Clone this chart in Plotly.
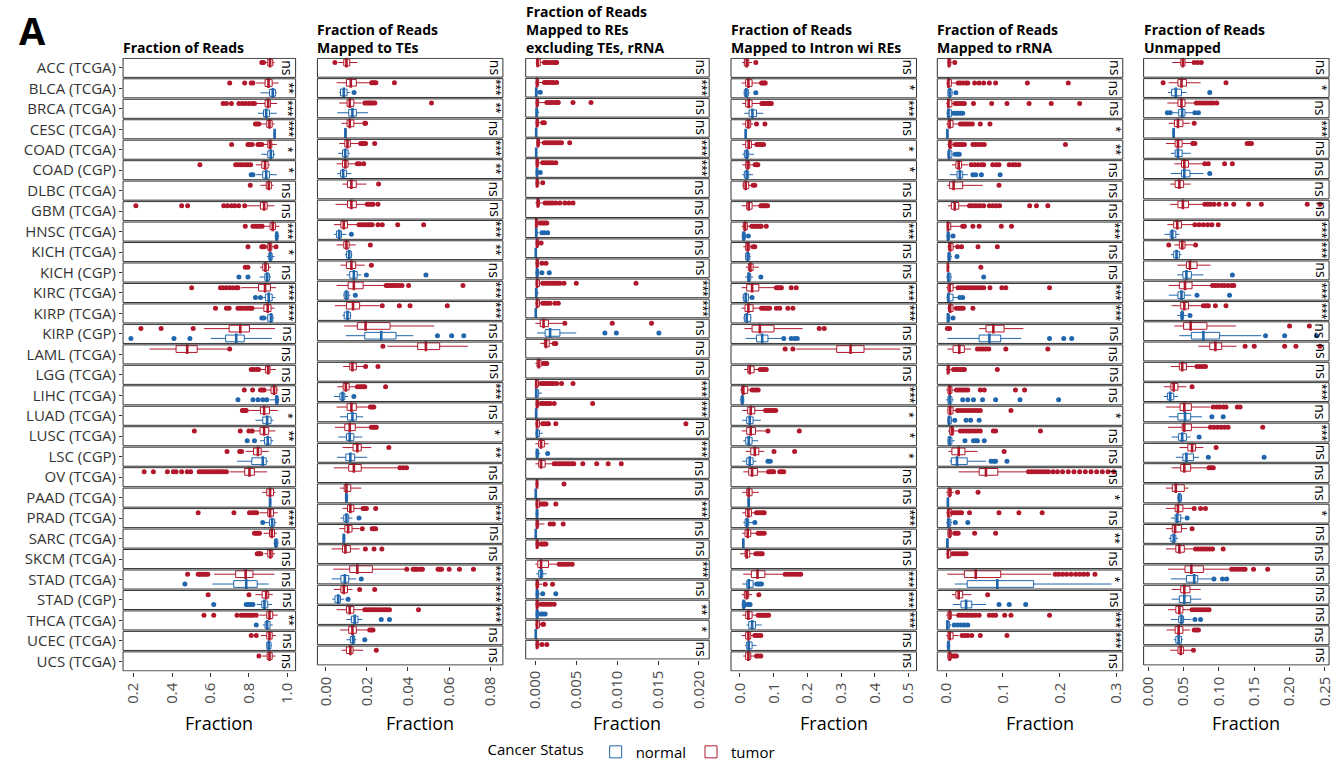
import plotly.graph_objects as go

categories = ["ACC (TCGA)", "BLCA (TCGA)", "BRCA (TCGA)", "CESC (TCGA)", "COAD (TCGA)",
              "COAD (CGP)", "DLBC (TCGA)", "GBM (TCGA)", "HNSC (TCGA)", "KICH (TCGA)",
              "KICH (CGP)", "KIRC (TCGA)", "KIRP (TCGA)", "KIRP (CGP)", "LAML (TCGA)",
              "LGG (TCGA)", "LIHC (TCGA)", "LUAD (TCGA)", "LUSC (TCGA)", "LSC (CGP)",
              "OV (TCGA)", "PAAD (TCGA)", "PRAD (TCGA)", "SARC (TCGA)", "SKCM (TCGA)",
              "STAD (TCGA)", "STAD (CGP)", "THCA (TCGA)", "UCEC (TCGA)", "UCS (TCGA)"]

# box statistics per cohort: (lower whisker, q1, median, q3, upper whisker); None = no samples

# ---- Fraction of Reads ----
reads_tumor = [
    (0.881, 0.898, 0.910, 0.924, 0.933), (0.838, 0.884, 0.902, 0.921, 0.955),
    (0.838, 0.884, 0.900, 0.912, 0.947), (0.860, 0.893, 0.907, 0.921, 0.933),
    (0.872, 0.898, 0.910, 0.919, 0.945), (0.836, 0.867, 0.884, 0.900, 0.910),
    (0.860, 0.890, 0.903, 0.917, 0.928), (0.781, 0.860, 0.879, 0.895, 0.933),
    (0.881, 0.910, 0.924, 0.938, 0.959), (0.893, 0.898, 0.909, 0.919, 0.931),
    (0.858, 0.872, 0.886, 0.902, 0.915), (0.760, 0.850, 0.884, 0.912, 0.941),
    (0.821, 0.878, 0.898, 0.915, 0.933), (0.566, 0.697, 0.755, 0.803, 0.936),
    (0.283, 0.421, 0.479, 0.531, 0.690), (0.862, 0.886, 0.900, 0.910, 0.941),
    (0.893, 0.915, 0.931, 0.945, 0.953), (0.800, 0.860, 0.879, 0.907, 0.950),
    (0.829, 0.858, 0.879, 0.903, 0.938), (0.783, 0.824, 0.847, 0.864, 0.903),
    (0.700, 0.778, 0.803, 0.829, 0.895), (0.869, 0.893, 0.910, 0.928, 0.938),
    (0.855, 0.898, 0.910, 0.928, 0.950), (0.876, 0.907, 0.919, 0.933, 0.945),
    (0.881, 0.898, 0.912, 0.924, 0.936), (0.619, 0.731, 0.783, 0.821, 0.933),
    (0.834, 0.869, 0.890, 0.903, 0.924), (0.855, 0.893, 0.907, 0.924, 0.950),
    (0.862, 0.893, 0.907, 0.921, 0.941), (0.869, 0.895, 0.907, 0.921, 0.938)]
reads_tumor_out = [
    [0.867, 0.876], [0.700, 0.778, 0.812, 0.821],
    [0.666, 0.683, 0.709, 0.748, 0.766, 0.783, 0.800, 0.817, 0.829], [0.834, 0.843, 0.852],
    [0.710, 0.795, 0.803, 0.817, 0.847, 0.855, 0.867],
    [0.545, 0.731, 0.743, 0.755, 0.769, 0.783, 0.795, 0.809], [0.807],
    [0.212, 0.450, 0.481, 0.669, 0.688, 0.709, 0.726, 0.747, 0.778],
    [0.781, 0.821, 0.833, 0.845, 0.857, 0.869], [0.795, 0.867, 0.874, 0.881, 0.941],
    [0.781, 0.795], [0.502, 0.652, 0.666, 0.683, 0.700, 0.717, 0.734, 0.743],
    [0.626, 0.683, 0.697, 0.743, 0.755, 0.769, 0.783, 0.795, 0.807, 0.816],
    [0.238, 0.343, 0.510], [0.700], [0.812, 0.824, 0.838, 0.850],
    [0.776, 0.819, 0.860, 0.870, 0.879], [0.766, 0.772, 0.779, 0.786],
    [0.516, 0.755, 0.800, 0.817], [0.686, 0.752, 0.762],
    [0.255, 0.303, 0.376, 0.407, 0.421, 0.450, 0.479, 0.497, 0.541, 0.553, 0.566, 0.579,
     0.593, 0.605, 0.619, 0.631, 0.645, 0.657, 0.669, 0.683],
    [], [0.536, 0.722, 0.803, 0.816, 0.828, 0.840], [0.829, 0.838, 0.847, 0.855],
    [0.843, 0.850, 0.855, 0.862], [0.481, 0.536, 0.545, 0.555, 0.566, 0.576, 0.586],
    [0.588, 0.800], [0.566, 0.617, 0.738, 0.760, 0.774, 0.786, 0.800, 0.812, 0.824, 0.838],
    [0.812, 0.838], [0.852]]
reads_normal = [
    None, (0.860, 0.907, 0.924, 0.938, 0.945), (0.847, 0.876, 0.890, 0.907, 0.945),
    (0.928, 0.931, 0.934, 0.938, 0.941), (0.864, 0.898, 0.914, 0.928, 0.936),
    (0.838, 0.872, 0.890, 0.907, 0.945), None, None, (0.933, 0.938, 0.945, 0.952, 0.959),
    (0.893, 0.903, 0.912, 0.921, 0.933), (0.855, 0.883, 0.895, 0.907, 0.915),
    (0.872, 0.886, 0.903, 0.921, 0.938), (0.886, 0.898, 0.915, 0.924, 0.931),
    (0.602, 0.679, 0.734, 0.776, 0.919), None, None, (0.910, 0.938, 0.945, 0.953, 0.959),
    (0.834, 0.872, 0.895, 0.915, 0.927), (0.858, 0.881, 0.898, 0.915, 0.927),
    (0.738, 0.815, 0.872, 0.890, 0.900), None, (0.905, 0.907, 0.910, 0.914, 0.916),
    (0.883, 0.907, 0.921, 0.934, 0.943), (0.928, 0.933, 0.941, 0.950, 0.955), None,
    (0.610, 0.721, 0.786, 0.843, 0.903), (0.841, 0.867, 0.881, 0.898, 0.921),
    (0.872, 0.884, 0.895, 0.910, 0.924), (0.890, 0.893, 0.903, 0.915, 0.921), None]
reads_normal_out = [
    [], [], [], [], [], [0.812, 0.821], [], [], [], [], [0.748, 0.795], [0.834, 0.860],
    [0.867, 0.878], [0.186, 0.410, 0.493], [], [], [0.743, 0.821, 0.847, 0.872, 0.893],
    [], [0.791, 0.829], [], [], [], [0.872], [], [], [0.467],
    [0.617, 0.786, 0.798, 0.809, 0.821], [0.838], [], []]
sig_reads = ["ns", "**", "***", "***", "*", "*", "ns", "ns", "***", "*", "ns", "***", "***",
             "ns", "ns", "ns", "ns", "*", "**", "ns", "ns", "ns", "***", "ns", "ns", "ns",
             "ns", "**", "ns", "ns"]
reads_ticks = [0.2, 0.4, 0.6, 0.8, 1.0]

# ---- Fraction of Reads Mapped to TEs ----
te_tumor = [
    (0.0061, 0.0088, 0.0101, 0.0117, 0.0154), (0.0053, 0.0101, 0.0122, 0.0149, 0.0210),
    (0.0066, 0.0104, 0.0117, 0.0137, 0.0175), (0.0077, 0.0104, 0.0117, 0.0137, 0.0178),
    (0.0066, 0.0093, 0.0106, 0.0120, 0.0162), (0.0053, 0.0082, 0.0096, 0.0109, 0.0146),
    (0.0082, 0.0106, 0.0125, 0.0149, 0.0198), (0.0048, 0.0106, 0.0125, 0.0149, 0.0198),
    (0.0040, 0.0074, 0.0088, 0.0106, 0.0157), (0.0053, 0.0088, 0.0101, 0.0114, 0.0146),
    (0.0072, 0.0101, 0.0125, 0.0146, 0.0190), (0.0053, 0.0109, 0.0137, 0.0182, 0.0286),
    (0.0045, 0.0101, 0.0133, 0.0165, 0.0262), (0.0090, 0.0154, 0.0194, 0.0313, 0.0527),
    (0.0300, 0.0447, 0.0487, 0.0554, 0.0692), (0.0085, 0.0117, 0.0130, 0.0149, 0.0190),
    (0.0056, 0.0085, 0.0098, 0.0114, 0.0149), (0.0053, 0.0104, 0.0125, 0.0149, 0.0214),
    (0.0045, 0.0093, 0.0117, 0.0144, 0.0214), (0.0082, 0.0133, 0.0154, 0.0173, 0.0222),
    (0.0040, 0.0112, 0.0137, 0.0173, 0.0355), (0.0069, 0.0090, 0.0101, 0.0122, 0.0173),
    (0.0082, 0.0106, 0.0120, 0.0137, 0.0173), (0.0066, 0.0093, 0.0109, 0.0128, 0.0165),
    (0.0029, 0.0082, 0.0096, 0.0120, 0.0165), (0.0037, 0.0117, 0.0154, 0.0227, 0.0390),
    (0.0040, 0.0074, 0.0088, 0.0106, 0.0130), (0.0053, 0.0101, 0.0117, 0.0137, 0.0182),
    (0.0069, 0.0112, 0.0130, 0.0149, 0.0210), (0.0077, 0.0101, 0.0120, 0.0133, 0.0182)]
te_tumor_out = [
    [0.0045], [0.0223, 0.0229, 0.0238, 0.0244, 0.0334],
    [0.0190, 0.0198, 0.0206, 0.0214, 0.0222, 0.0230, 0.0239, 0.0514], [0.0190, 0.0194],
    [0.0170, 0.0178, 0.0186, 0.0194, 0.0238], [0.0154, 0.0165, 0.0185], [0.0257],
    [0.0202, 0.0210, 0.0222, 0.0230, 0.0254],
    [0.0162, 0.0173, 0.0185, 0.0194, 0.0206, 0.0217, 0.0226, 0.0254, 0.0275, 0.0350, 0.0476],
    [0.0217], [0.0222],
    [0.0294, 0.0303, 0.0313, 0.0323, 0.0334, 0.0345, 0.0358, 0.0371, 0.0403, 0.0667],
    [0.0275, 0.0358, 0.0410, 0.0591], [], [0.0278], [0.0194, 0.0254],
    [0.0154, 0.0165, 0.0173, 0.0182, 0.0190, 0.0291], [0.0217, 0.0226, 0.0234],
    [0.0222, 0.0230, 0.0238, 0.0246], [0.0307], [0.0361, 0.0377, 0.0393], [],
    [0.0182, 0.0190, 0.0198, 0.0243], [0.0178, 0.0226, 0.0234, 0.0243],
    [0.0193, 0.0235, 0.0273],
    [0.0394, 0.0425, 0.0433, 0.0440, 0.0450, 0.0462, 0.0470, 0.0546, 0.0555, 0.0563,
     0.0600, 0.0650, 0.0718],
    [0.0165, 0.0238],
    [0.0190, 0.0201, 0.0214, 0.0226, 0.0238, 0.0249, 0.0262, 0.0275, 0.0286, 0.0297,
     0.0310, 0.0451],
    [0.0214, 0.0222, 0.0230], [0.0246]]
te_normal = [
    None, (0.0066, 0.0072, 0.0088, 0.0104, 0.0117), (0.0056, 0.0112, 0.0130, 0.0149, 0.0206),
    (0.0091, 0.0093, 0.0096, 0.0100, 0.0101), (0.0061, 0.0082, 0.0095, 0.0109, 0.0117),
    (0.0056, 0.0072, 0.0085, 0.0101, 0.0125), None, None,
    (0.0040, 0.0053, 0.0066, 0.0077, 0.0101), (0.0093, 0.0101, 0.0114, 0.0125, 0.0130),
    (0.0101, 0.0117, 0.0137, 0.0153, 0.0173), (0.0085, 0.0090, 0.0101, 0.0112, 0.0120),
    (0.0082, 0.0090, 0.0106, 0.0120, 0.0125), (0.0098, 0.0190, 0.0270, 0.0342, 0.0426),
    None, None, (0.0040, 0.0069, 0.0082, 0.0093, 0.0109),
    (0.0069, 0.0106, 0.0130, 0.0149, 0.0182), (0.0061, 0.0101, 0.0117, 0.0137, 0.0178),
    (0.0056, 0.0098, 0.0120, 0.0141, 0.0201), None, (0.0093, 0.0096, 0.0101, 0.0106, 0.0109),
    (0.0072, 0.0088, 0.0101, 0.0112, 0.0130), (0.0082, 0.0085, 0.0088, 0.0093, 0.0096), None,
    (0.0029, 0.0074, 0.0093, 0.0112, 0.0149), (0.0032, 0.0045, 0.0061, 0.0072, 0.0090),
    (0.0101, 0.0125, 0.0141, 0.0157, 0.0178), (0.0101, 0.0120, 0.0133, 0.0141, 0.0149), None]
te_normal_out = [
    [], [0.0138], [], [], [], [], [], [], [0.0125], [], [0.0198, 0.0487], [0.0144], [],
    [0.0543, 0.0612, 0.0671], [], [], [0.0137], [], [], [], [], [], [0.0162], [], [],
    [0.0173], [0.0109], [0.0270, 0.0310], [0.0190], []]
sig_te = ["ns", "***", "**", "ns", "***", "**", "ns", "ns", "***", "**", "ns", "***", "***",
          "ns", "ns", "ns", "***", "ns", "*", "**", "ns", "ns", "***", "ns", "ns", "***",
          "***", "***", "ns", "ns"]
te_ticks = [0.00, 0.02, 0.04, 0.06, 0.08]

# ---- Fraction of Reads Mapped to REs excluding TEs, rRNA ----
re_tumor = [
    (0.00004, 0.00016, 0.00028, 0.0006, 0.0009), (0.0, 0.0001, 0.0002, 0.0004, 0.0009),
    (0.0, 0.0001, 0.0002, 0.0004, 0.0012), (0.0, 0.0001, 0.0002, 0.0004, 0.0008),
    (0.0001, 0.0002, 0.0003, 0.0005, 0.0010), (0.0, 0.0001, 0.0002, 0.0004, 0.0008),
    (0.0, 0.0001, 0.0002, 0.0004, 0.0006), (0.0, 0.0002, 0.0003, 0.0005, 0.0010),
    (0.0, 0.00005, 0.0001, 0.0003, 0.0005), (0.0, 0.0001, 0.0002, 0.0004, 0.0005),
    (0.0, 0.0001, 0.0002, 0.0004, 0.0005), (0.0, 0.0001, 0.0002, 0.0005, 0.0008),
    (0.0, 0.0001, 0.0002, 0.0005, 0.0008), (0.0, 0.0006, 0.0010, 0.0016, 0.0033),
    (0.0006, 0.0011, 0.0013, 0.0017, 0.0021), (0.0, 0.0002, 0.0004, 0.0007, 0.0009),
    (0.0, 0.00005, 0.0001, 0.0004, 0.0006), (0.0, 0.0001, 0.0002, 0.0004, 0.0006),
    (0.0, 0.0001, 0.0002, 0.0005, 0.0008), (0.0, 0.0004, 0.0007, 0.0011, 0.0016),
    (0.0, 0.0004, 0.0007, 0.0012, 0.0021), (0.0, 0.0001, 0.0002, 0.0003, 0.0004),
    (0.0, 0.0001, 0.0002, 0.0005, 0.0006), (0.0, 0.0001, 0.0002, 0.0004, 0.0011),
    (0.0, 0.0001, 0.0002, 0.0004, 0.0006), (0.0, 0.0003, 0.0007, 0.0016, 0.0026),
    (0.0, 0.0001, 0.0002, 0.0004, 0.0008), (0.0, 0.0001, 0.0002, 0.0004, 0.0006),
    (0.0, 0.0001, 0.0002, 0.0005, 0.0008), (0.0, 0.0001, 0.0002, 0.0004, 0.0006)]
re_tumor_out = [
    [0.0011, 0.0013, 0.0015, 0.0018, 0.0021, 0.0024, 0.0026],
    [0.0011, 0.0013, 0.0016, 0.0019, 0.0022, 0.0026],
    [0.0014, 0.0017, 0.0020, 0.0023, 0.0026, 0.0028, 0.0046, 0.0068], [0.0009, 0.0011],
    [0.0011, 0.0014, 0.0017, 0.0020, 0.0023, 0.0026, 0.0029, 0.0032, 0.0042],
    [0.0009, 0.0012, 0.0015, 0.0018, 0.0021, 0.0025], [0.0009],
    [0.0012, 0.0015, 0.0018, 0.0021, 0.0025, 0.0030, 0.0036, 0.0041, 0.0046],
    [0.0006, 0.0008, 0.0010, 0.0012, 0.0014], [0.0007], [0.0008, 0.0013],
    [0.0009, 0.0012, 0.0015, 0.0018, 0.0021, 0.0024, 0.0027, 0.0030, 0.0035, 0.0050, 0.0123],
    [0.0009, 0.0012, 0.0015, 0.0018, 0.0024, 0.0028], [0.0036, 0.0094, 0.0142],
    [0.0023, 0.0025], [0.0010, 0.0012, 0.0014],
    [0.0007, 0.0010, 0.0013, 0.0016, 0.0019, 0.0022, 0.0026, 0.0032, 0.0046],
    [0.0007, 0.0010, 0.0013, 0.0016, 0.0018, 0.0023, 0.0070],
    [0.0009, 0.0011, 0.0014, 0.0016, 0.0025, 0.0184], [],
    [0.0023, 0.0026, 0.0029, 0.0032, 0.0035, 0.0038, 0.0041, 0.0044, 0.0047, 0.0058,
     0.0075, 0.0089, 0.0105],
    [0.0035], [0.0007, 0.0009, 0.0011, 0.0013, 0.0025], [0.0018, 0.0022, 0.0034],
    [0.0007, 0.0009, 0.0011, 0.0013], [0.0029, 0.0032, 0.0035, 0.0038, 0.0041, 0.0045],
    [0.0012, 0.0021], [0.0007, 0.0010, 0.0013, 0.0016, 0.0019, 0.0023], [0.0009, 0.0010],
    [0.0008, 0.0014]]
re_normal = [
    None, (0.0, 0.00005, 0.0001, 0.0002, 0.00035), (0.0, 0.0001, 0.00015, 0.0003, 0.0005),
    (0.0, 0.00005, 0.0001, 0.00015, 0.0002), (0.0, 0.00005, 0.0001, 0.00015, 0.00025),
    (0.0, 0.0001, 0.0002, 0.0003, 0.0005), None, None,
    (0.0, 0.00005, 0.0001, 0.0002, 0.0004), (0.0, 0.00003, 0.00005, 0.0001, 0.00015),
    (0.0, 0.0001, 0.0002, 0.0004, 0.0005), (0.0, 0.00005, 0.0001, 0.0002, 0.0004),
    (0.0, 0.00003, 0.00005, 0.0001, 0.00015), (0.0002, 0.0012, 0.0018, 0.0030, 0.0050),
    None, None, (0.0, 0.00005, 0.0001, 0.0004, 0.0008),
    (0.0, 0.00005, 0.0001, 0.00015, 0.0002), (0.0, 0.0001, 0.0002, 0.0005, 0.0009),
    (0.0, 0.0001, 0.0002, 0.0004, 0.0006), None, (0.0, 0.00003, 0.00005, 0.0001, 0.00015),
    (0.0, 0.0001, 0.0002, 0.0003, 0.0004), (0.0, 0.00003, 0.00005, 0.0001, 0.00015), None,
    (0.0001, 0.0004, 0.0007, 0.0009, 0.0014), (0.0, 0.0001, 0.0002, 0.0004, 0.0006),
    (0.0, 0.0001, 0.0002, 0.0004, 0.0006), (0.0, 0.00003, 0.00005, 0.0001, 0.00015), None]
re_normal_out = [
    [], [0.0006], [], [], [], [0.0006], [], [], [0.0008, 0.0011, 0.0015], [],
    [0.0008, 0.0017], [], [], [0.0085, 0.0099, 0.0151], [], [], [], [], [], [0.0015], [],
    [], [], [], [], [], [0.0009, 0.0025], [0.0007, 0.0009, 0.0012], [], []]
sig_re = ["ns", "***", "ns", "ns", "***", "***", "ns", "ns", "ns", "ns", "ns", "***", "***",
          "ns", "ns", "ns", "***", "***", "ns", "***", "ns", "ns", "***", "ns", "ns", "***",
          "ns", "**", "*", "ns"]
re_ticks = [0.000, 0.005, 0.010, 0.015, 0.020]

# ---- Fraction of Reads Mapped to Intron wi REs ----
intron_tumor = [
    (0.007, 0.013, 0.020, 0.026, 0.036), (0.005, 0.017, 0.025, 0.036, 0.062),
    (0.007, 0.017, 0.026, 0.036, 0.062), (0.007, 0.017, 0.025, 0.032, 0.039),
    (0.007, 0.017, 0.026, 0.034, 0.047), (0.007, 0.017, 0.023, 0.029, 0.042),
    (0.007, 0.010, 0.017, 0.026, 0.032), (0.005, 0.020, 0.026, 0.036, 0.058),
    (0.005, 0.010, 0.015, 0.022, 0.033), (0.010, 0.017, 0.023, 0.029, 0.036),
    (0.017, 0.025, 0.031, 0.039, 0.056), (0.005, 0.020, 0.036, 0.056, 0.105),
    (0.005, 0.015, 0.025, 0.039, 0.062), (0.013, 0.036, 0.059, 0.101, 0.186),
    (0.167, 0.287, 0.328, 0.368, 0.475), (0.013, 0.023, 0.029, 0.042, 0.054),
    (0.0, 0.005, 0.010, 0.023, 0.034), (0.007, 0.023, 0.032, 0.044, 0.073),
    (0.005, 0.020, 0.032, 0.046, 0.078), (0.017, 0.032, 0.044, 0.056, 0.072),
    (0.010, 0.026, 0.036, 0.052, 0.083), (0.007, 0.020, 0.026, 0.036, 0.056),
    (0.007, 0.017, 0.025, 0.034, 0.046), (0.007, 0.015, 0.023, 0.032, 0.050),
    (0.0, 0.015, 0.020, 0.029, 0.044), (0.010, 0.034, 0.052, 0.074, 0.132),
    (0.005, 0.013, 0.020, 0.026, 0.036), (0.007, 0.017, 0.025, 0.036, 0.052),
    (0.005, 0.017, 0.025, 0.032, 0.042), (0.010, 0.017, 0.025, 0.032, 0.042)]
intron_tumor_out = [
    [0.047], [0.064, 0.068, 0.073, 0.075], [0.065, 0.070, 0.075, 0.080, 0.085, 0.090, 0.093],
    [0.049, 0.074], [0.050, 0.055, 0.060, 0.065, 0.070], [0.045, 0.050, 0.053],
    [0.039, 0.044], [0.062, 0.066, 0.070, 0.074, 0.078, 0.082],
    [0.035, 0.040, 0.045, 0.050, 0.055, 0.060, 0.063, 0.078], [0.039, 0.044], [],
    [0.108, 0.113, 0.118, 0.123, 0.152, 0.167],
    [0.064, 0.070, 0.076, 0.082, 0.088, 0.108, 0.118, 0.142, 0.157], [0.235, 0.250],
    [0.134, 0.157], [0.060, 0.066, 0.072, 0.078], [0.036, 0.042, 0.048, 0.054],
    [0.076, 0.082, 0.088, 0.095, 0.100, 0.106], [0.083, 0.176], [0.101, 0.162],
    [0.085, 0.090, 0.095, 0.100, 0.118, 0.124, 0.130], [], [0.049, 0.055, 0.062, 0.068, 0.072],
    [0.054, 0.060, 0.066, 0.072], [0.047, 0.052, 0.057, 0.062, 0.066],
    [0.134, 0.142, 0.150, 0.158, 0.166, 0.174, 0.180], [0.056],
    [0.054, 0.059, 0.064, 0.069, 0.074, 0.079, 0.085], [0.044, 0.050, 0.056, 0.062],
    [0.049, 0.055, 0.062]]
intron_normal = [
    None, (0.010, 0.013, 0.019, 0.025, 0.029), (0.013, 0.027, 0.037, 0.049, 0.069),
    (0.015, 0.016, 0.017, 0.018, 0.019), (0.007, 0.013, 0.020, 0.026, 0.042),
    (0.007, 0.013, 0.020, 0.026, 0.039), None, None, (0.005, 0.007, 0.011, 0.016, 0.019),
    (0.015, 0.017, 0.023, 0.029, 0.032), (0.015, 0.023, 0.026, 0.032, 0.039),
    (0.007, 0.010, 0.017, 0.025, 0.029), (0.010, 0.013, 0.020, 0.032, 0.034),
    (0.017, 0.049, 0.066, 0.083, 0.127), None, None, (0.0, 0.003, 0.007, 0.011, 0.013),
    (0.007, 0.020, 0.029, 0.039, 0.062), (0.010, 0.017, 0.026, 0.036, 0.054),
    (0.007, 0.020, 0.029, 0.039, 0.049), None, (0.023, 0.024, 0.026, 0.028, 0.029),
    (0.010, 0.015, 0.021, 0.026, 0.039), (0.008, 0.009, 0.010, 0.011, 0.012), None,
    (0.007, 0.020, 0.026, 0.039, 0.049), (0.005, 0.007, 0.011, 0.016, 0.020),
    (0.020, 0.026, 0.036, 0.046, 0.064), (0.015, 0.020, 0.026, 0.036, 0.049), None]
intron_normal_out = [
    [], [0.047], [], [], [], [], [], [], [0.025], [], [0.062], [0.036], [],
    [0.130, 0.152, 0.162, 0.170], [], [], [], [], [], [0.083, 0.090], [], [], [0.044], [],
    [], [0.050, 0.055, 0.060, 0.064], [0.023, 0.027, 0.030], [], [], []]
sig_intron = ["ns", "*", "***", "ns", "*", "*", "ns", "ns", "***", "ns", "ns", "***", "***",
              "ns", "ns", "ns", "***", "*", "*", "*", "ns", "ns", "***", "ns", "ns", "***",
              "***", "***", "ns", "ns"]
intron_ticks = [0.0, 0.1, 0.2, 0.3, 0.4, 0.5]

# ---- Fraction of Reads Mapped to rRNA ----
rrna_tumor = [
    (0.002, 0.003, 0.005, 0.008, 0.010), (0.0, 0.002, 0.004, 0.009, 0.020),
    (0.0, 0.002, 0.004, 0.010, 0.015), (0.0, 0.003, 0.006, 0.012, 0.023),
    (0.002, 0.004, 0.007, 0.010, 0.014), (0.010, 0.017, 0.022, 0.027, 0.038),
    (0.002, 0.006, 0.013, 0.029, 0.064), (0.003, 0.009, 0.015, 0.022, 0.040),
    (0.0, 0.002, 0.003, 0.008, 0.028), (0.002, 0.004, 0.007, 0.012, 0.017),
    (0.001, 0.002, 0.003, 0.004, 0.006), (0.0, 0.003, 0.006, 0.012, 0.020),
    (0.002, 0.004, 0.007, 0.012, 0.016), (0.058, 0.070, 0.083, 0.102, 0.136),
    (0.002, 0.012, 0.023, 0.032, 0.044), (0.0, 0.002, 0.003, 0.006, 0.010),
    (0.0, 0.003, 0.006, 0.010, 0.017), (0.002, 0.003, 0.007, 0.012, 0.019),
    (0.003, 0.006, 0.010, 0.013, 0.024), (0.004, 0.010, 0.022, 0.033, 0.055),
    (0.022, 0.058, 0.070, 0.091, 0.142), (0.0, 0.003, 0.006, 0.009, 0.013),
    (0.0, 0.002, 0.004, 0.009, 0.010), (0.002, 0.003, 0.006, 0.009, 0.013),
    (0.0, 0.002, 0.003, 0.008, 0.011), (0.002, 0.032, 0.052, 0.096, 0.185),
    (0.010, 0.017, 0.022, 0.029, 0.044), (0.0, 0.003, 0.006, 0.009, 0.020),
    (0.0, 0.003, 0.006, 0.012, 0.022), (0.002, 0.003, 0.006, 0.009, 0.010)]
rrna_tumor_out = [
    [0.015],
    [0.021, 0.025, 0.030, 0.035, 0.038, 0.050, 0.058, 0.066, 0.076, 0.087, 0.143, 0.215],
    [0.016, 0.020, 0.024, 0.028, 0.032, 0.048, 0.080, 0.107, 0.146, 0.185, 0.235],
    [0.025, 0.029, 0.033, 0.037, 0.041, 0.046, 0.060, 0.077],
    [0.016, 0.020, 0.024, 0.028, 0.032, 0.047, 0.052, 0.057, 0.062, 0.067, 0.210],
    [0.044, 0.050, 0.056, 0.062, 0.066, 0.082, 0.088, 0.093, 0.111, 0.117, 0.122, 0.128],
    [0.093],
    [0.041, 0.045, 0.050, 0.055, 0.060, 0.066, 0.076, 0.082, 0.088, 0.094, 0.147, 0.159,
     0.179],
    [0.029, 0.032, 0.047, 0.058, 0.097, 0.115], [0.020, 0.027, 0.056, 0.090], [0.061],
    [0.021, 0.026, 0.031, 0.036, 0.041, 0.046, 0.051, 0.056, 0.061, 0.066, 0.077, 0.098,
     0.105, 0.182],
    [0.018, 0.022, 0.026, 0.030, 0.047], [0.002, 0.006],
    [0.055, 0.060, 0.065, 0.070, 0.075, 0.105, 0.179],
    [0.013, 0.017, 0.021, 0.025, 0.029, 0.032, 0.090],
    [0.018, 0.022, 0.026, 0.030, 0.034, 0.038, 0.060, 0.067, 0.122, 0.138],
    [0.020, 0.025, 0.030, 0.035, 0.040, 0.045, 0.050, 0.055, 0.060, 0.114],
    [0.025, 0.030, 0.035, 0.040, 0.045, 0.050, 0.055, 0.060, 0.083, 0.087, 0.166],
    [0.102],
    [0.145, 0.150, 0.155, 0.160, 0.165, 0.170, 0.175, 0.180, 0.188, 0.196, 0.205, 0.215,
     0.225, 0.235, 0.245, 0.255, 0.265, 0.275, 0.285, 0.295],
    [0.020, 0.056], [0.011, 0.015, 0.019, 0.023, 0.027, 0.041, 0.093, 0.128, 0.169],
    [0.015, 0.018, 0.021, 0.050, 0.087], [0.012, 0.016, 0.020, 0.024, 0.028, 0.032, 0.035],
    [0.192, 0.198, 0.205, 0.212, 0.220, 0.228, 0.235, 0.242, 0.249, 0.262], [0.073],
    [0.022, 0.027, 0.032, 0.037, 0.042, 0.047, 0.052, 0.058, 0.076, 0.082, 0.087, 0.103,
     0.114, 0.182],
    [0.028, 0.033, 0.038, 0.045, 0.060, 0.107], [0.012, 0.015, 0.018]]
rrna_normal = [
    None, (0.002, 0.003, 0.006, 0.010, 0.012), (0.0, 0.002, 0.004, 0.009, 0.011),
    (0.0005, 0.001, 0.002, 0.003, 0.0035), (0.002, 0.003, 0.005, 0.010, 0.013),
    (0.006, 0.019, 0.024, 0.029, 0.038), None, None, (0.0, 0.002, 0.003, 0.006, 0.008),
    (0.002, 0.003, 0.005, 0.008, 0.010), (0.0, 0.002, 0.004, 0.008, 0.010),
    (0.0, 0.002, 0.004, 0.012, 0.020), (0.001, 0.002, 0.003, 0.006, 0.008),
    (0.002, 0.058, 0.076, 0.096, 0.132), None, None, (0.0, 0.003, 0.006, 0.010, 0.013),
    (0.002, 0.003, 0.005, 0.009, 0.010), (0.002, 0.003, 0.006, 0.010, 0.015),
    (0.006, 0.009, 0.019, 0.037, 0.070), None, (0.001, 0.002, 0.003, 0.004, 0.005),
    (0.0, 0.002, 0.004, 0.008, 0.010), (0.0, 0.001, 0.002, 0.003, 0.004), None,
    (0.015, 0.037, 0.090, 0.154, 0.291), (0.012, 0.026, 0.035, 0.045, 0.070),
    (0.0, 0.001, 0.002, 0.006, 0.009), (0.001, 0.002, 0.004, 0.006, 0.007), None]
rrna_normal_out = [
    [], [0.017], [0.013, 0.017, 0.021, 0.025, 0.029], [], [0.016, 0.020, 0.023],
    [0.047, 0.052, 0.062, 0.095], [], [], [0.012], [0.019], [0.066], [0.024, 0.029],
    [0.012], [0.182, 0.207, 0.221], [], [], [0.029, 0.038, 0.048, 0.064, 0.087, 0.130, 0.198],
    [0.015, 0.035, 0.043, 0.058], [0.033, 0.048, 0.052, 0.055, 0.067],
    [0.079, 0.084, 0.087, 0.107], [], [], [0.016, 0.038], [], [], [], [0.093, 0.111, 0.140],
    [0.014, 0.020, 0.026, 0.032, 0.038], [], []]
sig_rrna = ["ns", "ns", "ns", "*", "**", "ns", "ns", "ns", "***", "ns", "ns", "***", "***",
            "ns", "ns", "ns", "ns", "*", "ns", "ns", "ns", "*", "ns", "**", "ns", "*", "ns",
            "***", "***", "ns"]
rrna_ticks = [0.0, 0.1, 0.2, 0.3]

# ---- Fraction of Reads Unmapped ----
unmapped_tumor = [
    (0.034, 0.046, 0.049, 0.052, 0.064), (0.029, 0.042, 0.047, 0.054, 0.074),
    (0.027, 0.042, 0.047, 0.052, 0.066), (0.029, 0.037, 0.042, 0.049, 0.059),
    (0.025, 0.038, 0.042, 0.048, 0.061), (0.037, 0.047, 0.051, 0.057, 0.078),
    (0.031, 0.038, 0.044, 0.050, 0.060), (0.031, 0.042, 0.049, 0.057, 0.078),
    (0.027, 0.036, 0.041, 0.047, 0.064), (0.037, 0.044, 0.048, 0.052, 0.064),
    (0.041, 0.054, 0.059, 0.069, 0.088), (0.029, 0.044, 0.052, 0.062, 0.090),
    (0.033, 0.046, 0.051, 0.057, 0.076), (0.037, 0.050, 0.060, 0.083, 0.124),
    (0.071, 0.087, 0.095, 0.104, 0.125), (0.032, 0.044, 0.048, 0.054, 0.067),
    (0.022, 0.032, 0.036, 0.042, 0.054), (0.025, 0.045, 0.051, 0.061, 0.088),
    (0.028, 0.048, 0.051, 0.061, 0.087), (0.044, 0.056, 0.062, 0.067, 0.078),
    (0.033, 0.046, 0.051, 0.060, 0.085), (0.025, 0.034, 0.039, 0.051, 0.057),
    (0.025, 0.038, 0.042, 0.049, 0.064), (0.025, 0.034, 0.038, 0.047, 0.055),
    (0.025, 0.039, 0.044, 0.051, 0.066), (0.028, 0.052, 0.061, 0.078, 0.117),
    (0.033, 0.046, 0.051, 0.059, 0.074), (0.028, 0.039, 0.044, 0.049, 0.061),
    (0.026, 0.038, 0.043, 0.049, 0.059), (0.031, 0.042, 0.046, 0.050, 0.061)]
unmapped_tumor_out = [
    [0.065, 0.070, 0.075], [0.021, 0.110],
    [0.068, 0.072, 0.076, 0.080, 0.084, 0.088, 0.092, 0.097], [0.065],
    [0.063, 0.066, 0.140, 0.143, 0.146], [0.080, 0.085, 0.108, 0.119], [],
    [0.080, 0.084, 0.088, 0.093, 0.100, 0.110, 0.121, 0.142, 0.160, 0.225, 0.243],
    [0.066, 0.072, 0.078, 0.084, 0.090, 0.099], [0.029, 0.067], [],
    [0.091, 0.095, 0.099, 0.104, 0.108, 0.113, 0.118, 0.121],
    [0.078, 0.082, 0.085, 0.095, 0.110], [0.200, 0.228], [0.137, 0.150, 0.193, 0.209, 0.243],
    [0.069, 0.073, 0.077, 0.081], [0.062], [0.092, 0.097, 0.101, 0.106, 0.110, 0.126, 0.130],
    [0.088, 0.093, 0.098, 0.103, 0.108, 0.113, 0.162], [0.096], [0.086, 0.089, 0.092], [],
    [0.065, 0.074, 0.081], [0.062], [0.067, 0.071, 0.075, 0.079, 0.083, 0.087, 0.091, 0.106],
    [0.118, 0.122, 0.126, 0.130, 0.134, 0.137, 0.149, 0.169], [],
    [0.062, 0.066, 0.070, 0.074, 0.078, 0.082, 0.086], [0.065, 0.068, 0.071], [0.064]]
unmapped_normal = [
    None, (0.028, 0.033, 0.039, 0.047, 0.054), (0.033, 0.043, 0.048, 0.052, 0.064),
    (0.034, 0.035, 0.036, 0.037, 0.038), (0.032, 0.038, 0.042, 0.048, 0.060),
    (0.032, 0.047, 0.051, 0.059, 0.078), None, None, (0.023, 0.031, 0.034, 0.039, 0.044),
    (0.032, 0.036, 0.040, 0.044, 0.047), (0.041, 0.049, 0.054, 0.061, 0.078),
    (0.029, 0.042, 0.047, 0.051, 0.061), (0.041, 0.046, 0.048, 0.050, 0.054),
    (0.044, 0.061, 0.078, 0.101, 0.160), None, None, (0.022, 0.027, 0.031, 0.036, 0.042),
    (0.029, 0.042, 0.052, 0.060, 0.076), (0.033, 0.043, 0.048, 0.054, 0.060),
    (0.039, 0.049, 0.054, 0.064, 0.072), None, (0.041, 0.042, 0.044, 0.047, 0.048),
    (0.032, 0.038, 0.041, 0.046, 0.050), (0.029, 0.032, 0.036, 0.039, 0.042), None,
    (0.032, 0.054, 0.065, 0.070, 0.091), (0.033, 0.044, 0.051, 0.060, 0.075),
    (0.032, 0.043, 0.047, 0.050, 0.061), (0.036, 0.039, 0.043, 0.047, 0.049), None]
unmapped_normal_out = [
    [], [0.087], [0.027, 0.031, 0.066, 0.071], [], [], [0.087], [], [], [], [], [0.119],
    [0.069, 0.115], [0.059], [0.166, 0.193, 0.238], [], [], [], [0.090, 0.106], [0.072],
    [0.085, 0.164], [], [], [0.055], [], [], [0.093, 0.105, 0.111], [], [0.066, 0.074], [], []]
sig_unmapped = ["ns", "*", "ns", "***", "ns", "ns", "ns", "ns", "***", "***", "ns", "***",
                "***", "ns", "ns", "ns", "***", "ns", "***", "ns", "ns", "ns", "*", "ns", "ns",
                "ns", "ns", "ns", "ns", "ns"]
unmapped_ticks = [0.00, 0.05, 0.10, 0.15, 0.20, 0.25]

# ---------------------------------------------------------------------------
TUMOR = "#B2182B"
NORMAL = "#2166AC"
FONT = "Open Sans"
STAR_FONT = "Liberation Sans"
W, H = 1343, 769
TOP = 57                     # top edge of every panel (px)
TUMOR_OFF, NORMAL_OFF = -0.26, 0.22
BOX_W = 0.33

panels = [
    dict(title=["Fraction of Reads"], tumor=reads_tumor, tumor_out=reads_tumor_out,
         normal=reads_normal, normal_out=reads_normal_out, sig=sig_reads, ticks=reads_ticks,
         fmt=".1f", xrange=[0.145, 1.043], xpx=(118, 292), bottom=675),
    dict(title=["Fraction of Reads", "Mapped to TEs"], tumor=te_tumor, tumor_out=te_tumor_out,
         normal=te_normal, normal_out=te_normal_out, sig=sig_te, ticks=te_ticks,
         fmt=".2f", xrange=[-0.0040, 0.0861], xpx=(314, 501), bottom=669),
    dict(title=["Fraction of Reads", "Mapped to REs", "excluding TEs, rRNA"], tumor=re_tumor,
         tumor_out=re_tumor_out, normal=re_normal, normal_out=re_normal_out, sig=sig_re,
         ticks=re_ticks, fmt=".3f", xrange=[-0.00118, 0.02125], xpx=(524, 709), bottom=663),
    dict(title=["Fraction of Reads", "Mapped to Intron wi REs"], tumor=intron_tumor,
         tumor_out=intron_tumor_out, normal=intron_normal, normal_out=intron_normal_out,
         sig=sig_intron, ticks=intron_ticks, fmt=".1f", xrange=[-0.0265, 0.5235],
         xpx=(731, 918), bottom=675),
    dict(title=["Fraction of Reads", "Mapped to rRNA"], tumor=rrna_tumor,
         tumor_out=rrna_tumor_out, normal=rrna_normal, normal_out=rrna_normal_out,
         sig=sig_rrna, ticks=rrna_ticks, fmt=".1f", xrange=[-0.0157, 0.311],
         xpx=(939, 1126), bottom=675),
    dict(title=["Fraction of Reads", "Unmapped"], tumor=unmapped_tumor,
         tumor_out=unmapped_tumor_out, normal=unmapped_normal, normal_out=unmapped_normal_out,
         sig=sig_unmapped, ticks=unmapped_ticks, fmt=".2f", xrange=[-0.0066, 0.2559],
         xpx=(1147, 1334), bottom=669),
]

fig = go.Figure()
layout_axes = {}
annotations = []
shapes = []


def add_group(stats, outliers, offset, color, name, xa, ya, show):
    rows = [i for i, s in enumerate(stats) if s is not None]
    pos = [i + offset for i in rows]
    fig.add_trace(go.Box(
        orientation="h", y=pos,
        lowerfence=[stats[i][0] for i in rows], q1=[stats[i][1] for i in rows],
        median=[stats[i][2] for i in rows], q3=[stats[i][3] for i in rows],
        upperfence=[stats[i][4] for i in rows],
        width=BOX_W, whiskerwidth=0, fillcolor="white", line=dict(color=color, width=1),
        boxpoints=False, name=name, legendgroup=name, showlegend=show,
        xaxis=xa, yaxis=ya, hoverinfo="skip"))
    # heavier median stroke
    fig.add_trace(go.Scatter(
        x=[stats[i][2] for i in rows], y=pos, mode="markers",
        marker=dict(symbol="line-ns", size=7, color=color, line=dict(color=color, width=2.6)),
        showlegend=False, xaxis=xa, yaxis=ya, hoverinfo="skip"))
    ox, oy = [], []
    for i, vals in enumerate(outliers):
        for v in vals:
            ox.append(v)
            oy.append(i + offset)
    fig.add_trace(go.Scatter(
        x=ox, y=oy, mode="markers", marker=dict(color=color, size=5, line=dict(width=0)),
        showlegend=False, xaxis=xa, yaxis=ya, hoverinfo="skip"))


for p, cfg in enumerate(panels):
    sfx = "" if p == 0 else str(p + 1)
    xa, ya = "x" + sfx, "y" + sfx
    x0, x1 = cfg["xpx"]

    add_group(cfg["normal"], cfg["normal_out"], NORMAL_OFF, NORMAL, "normal", xa, ya, p == 0)
    add_group(cfg["tumor"], cfg["tumor_out"], TUMOR_OFF, TUMOR, "tumor", xa, ya, p == 0)

    layout_axes["xaxis" + sfx] = dict(
        domain=[x0 / W, x1 / W], range=cfg["xrange"], anchor=ya,
        tickvals=cfg["ticks"], tickformat=cfg["fmt"], tickangle=-90,
        ticks="outside", ticklen=4, tickcolor="#333333",
        tickfont=dict(family=FONT, size=15, color="#4D4D4D"),
        showgrid=False, zeroline=False, showline=False, fixedrange=True)
    layout_axes["yaxis" + sfx] = dict(
        domain=[1 - cfg["bottom"] / H, 1 - TOP / H], range=[len(categories) - 0.5, -0.5],
        anchor=xa, showgrid=False, zeroline=False, showline=False, fixedrange=True,
        tickvals=list(range(len(categories))), ticktext=categories,
        showticklabels=(p == 0), ticks="outside" if p == 0 else "", ticklen=3,
        tickcolor="#333333", tickfont=dict(family=FONT, size=15, color="#333333"))

    # one bordered strip per cohort, with its significance label at the right
    for i in range(len(categories)):
        shapes.append(dict(type="rect", xref=xa + " domain", yref=ya,
                           x0=0, x1=1, y0=i - 0.465, y1=i + 0.465,
                           line=dict(color="#333333", width=1), fillcolor="rgba(0,0,0,0)",
                           layer="above"))
        label = cfg["sig"][i]
        stars = "*" in label
        annotations.append(dict(xref=xa + " domain", yref=ya, x=1, y=i,
                                xshift=-8 if not stars else -7,
                                text=label, textangle=90, showarrow=False,
                                xanchor="center", yanchor="middle",
                                font=dict(family=STAR_FONT if stars else FONT,
                                          size=14, color="black")))

    # panel title
    annotations.append(dict(xref="paper", yref="paper", x=x0 / W, y=1 - 58 / H,
                            xshift=-2, text="<b>" + "<br>".join(cfg["title"]) + "</b>",
                            showarrow=False, xanchor="left", yanchor="bottom", align="left",
                            font=dict(family=FONT, size=14, color="black")))

    annotations.append(dict(xref=xa + " domain", yref="paper", x=0.5, y=1 - 727 / H,
                            xshift=10, text="Fraction", showarrow=False,
                            xanchor="center", yanchor="middle",
                            font=dict(family=FONT, size=18, color="black")))

annotations.append(dict(xref="paper", yref="paper", x=27 / W, y=1, yshift=-1, text="<b>A</b>",
                        showarrow=False, xanchor="center", yanchor="top",
                        font=dict(family=FONT, size=38, color="black")))

fig.update_layout(
    width=W, height=H, margin=dict(l=0, r=0, t=0, b=0),
    paper_bgcolor="white", plot_bgcolor="white", boxmode="overlay",
    font=dict(family=FONT, color="black"),
    annotations=annotations, shapes=shapes,
    legend=dict(orientation="h", x=0.360, y=1 - 756 / H, xanchor="left", yanchor="middle",
                title=dict(text="Cancer Status ", side="left",
                           font=dict(family=FONT, size=15, color="black")),
                font=dict(family=FONT, size=15, color="black"), itemwidth=30,
                bgcolor="rgba(0,0,0,0)", traceorder="normal"),
    **layout_axes)

fig.write_html("out.html")
